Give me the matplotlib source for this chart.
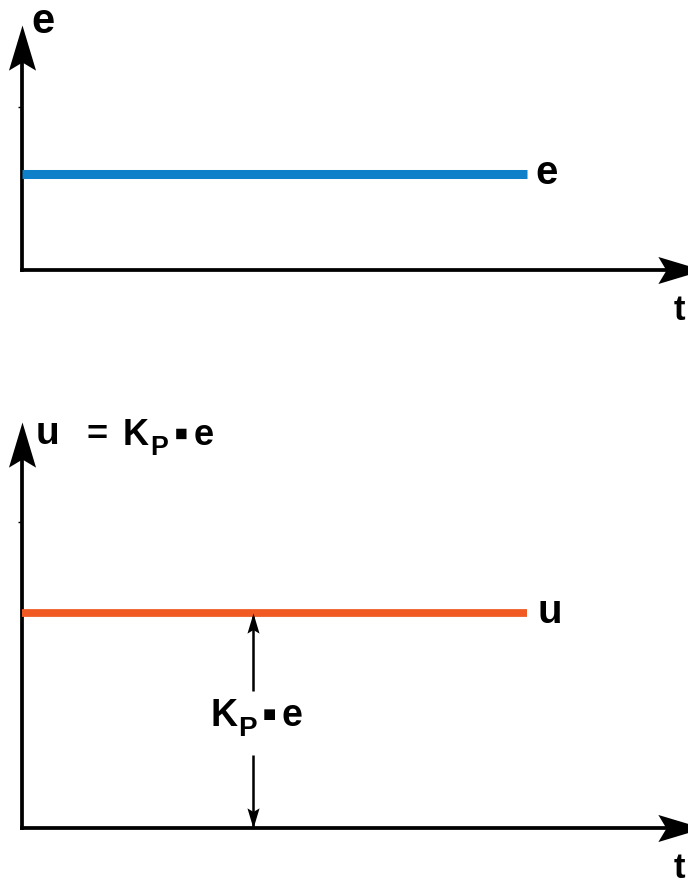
import numpy as np
import matplotlib
matplotlib.use("Agg")
import matplotlib.pyplot as plt
from matplotlib.path import Path

plt.rcParams['font.family'] = ['Liberation Sans', 'DejaVu Sans']
plt.rcParams['font.weight'] = 'bold'

# signals: constant error e and proportional output u = Kp * e
t = [0.0, 8.0]
e = [1.0, 1.0]
Kp = 2.0
u = [Kp * v for v in e]
t_mark = 3.66            # where the Kp*e span is marked

blue = '#0d80c9'
orange = '#f15a22'


def head(angle, hw=0.3, notch=0.18):
    # concave arrow head, tip at the origin, pointing up before rotation
    v = np.array([(0, 0), (hw, -1), (0, -1 + notch), (-hw, -1), (0, 0)], float)
    a = np.deg2rad(angle)
    r = np.array([[np.cos(a), -np.sin(a)], [np.sin(a), np.cos(a)]])
    v = v @ r.T
    return Path(v, [Path.MOVETO, Path.LINETO, Path.LINETO, Path.LINETO, Path.CLOSEPOLY])


UP, RIGHT, DOWN = head(0), head(-90), head(180)


def setup(ax, ytop):
    ax.set_xlim(0, 10.79)
    ax.set_ylim(0, ytop)
    for s in ('top', 'right'):
        ax.spines[s].set_visible(False)
    for s in ('left', 'bottom'):
        ax.spines[s].set_linewidth(2.7)
    ax.spines['left'].set_bounds(0, ytop * 0.95)
    ax.spines['bottom'].set_bounds(0, 10.79 * 0.95)
    ax.set_xticks([])
    ax.tick_params(axis='y', length=3, width=1, labelleft=False)
    ax.plot([0], [1], marker=UP, ms=65, color='k', mew=0,
            transform=ax.transAxes, clip_on=False, zorder=5)
    ax.plot([1], [0], marker=RIGHT, ms=65, color='k', mew=0,
            transform=ax.transAxes, clip_on=False, zorder=5)
    ax.annotate('t', xy=(1, 0), xycoords='axes fraction', xytext=(-29, -50),
                textcoords='offset pixels', fontsize=25, ha='left', va='baseline')
    ax.patch.set_visible(False)


def kp_e(ax, xy, xycoords, dx, dy, size=26):
    kw = dict(xy=xy, xycoords=xycoords, textcoords='offset pixels', annotation_clip=False)
    ax.annotate('K', xytext=(dx, dy), fontsize=size, ha='left', va='baseline', **kw)
    ax.annotate('P', xytext=(dx + 27, dy - 10), fontsize=size * 0.74,
                ha='left', va='baseline', **kw)
    ax.annotate('\u25aa', xytext=(dx + 58, dy + 9), fontsize=size * 1.15,
                ha='center', va='center', **kw)
    ax.annotate('e', xytext=(dx + 71, dy), fontsize=size, ha='left', va='baseline', **kw)


fig = plt.figure(figsize=(6.88, 8.86), dpi=100)
ax1 = fig.add_axes([22 / 688, 616 / 886, 681 / 688, 245 / 886])
ax2 = fig.add_axes([22 / 688, 58 / 886, 681 / 688, 406 / 886])

# top: error signal
setup(ax1, 2.565)
ax1.set_yticks([1.71])
ax1.plot(t, e, color=blue, lw=6.5, solid_capstyle='butt', zorder=3)
ax1.annotate('e', xy=(t[-1], e[-1]), xytext=(8, -10), textcoords='offset pixels',
             fontsize=29, ha='left', va='baseline')
ax1.annotate('e', xy=(0, 1), xycoords='axes fraction', xytext=(9, -8),
             textcoords='offset pixels', fontsize=30, ha='left', va='baseline')

# bottom: controller output
setup(ax2, 3.777)
ax2.set_yticks([2.85])
ax2.plot(t, u, color=orange, lw=5.6, solid_capstyle='butt', zorder=3)
ax2.annotate('u', xy=(t[-1], u[-1]), xytext=(11, -10), textcoords='offset pixels',
             fontsize=29, ha='left', va='baseline')
ax2.annotate('u', xy=(0, 1), xycoords='axes fraction', xytext=(14, -22),
             textcoords='offset pixels', fontsize=28, ha='left', va='baseline')
ax2.annotate('=', xy=(0, 1), xycoords='axes fraction', xytext=(64, -23),
             textcoords='offset pixels', fontsize=26, ha='left', va='baseline')
kp_e(ax2, (0, 1), 'axes fraction', 101, -23)

# span arrow from the t axis up to u, labelled Kp*e
u0 = u[0]
ax2.vlines(t_mark, u0 / 2 + 0.27, u0, color='k', lw=1.8)
ax2.vlines(t_mark, 0, u0 / 2 - 0.32, color='k', lw=1.8)
ax2.plot([t_mark], [u0], marker=UP, ms=29, color='k', mew=0, zorder=4, clip_on=False)
ax2.plot([t_mark], [0], marker=DOWN, ms=29, color='k', mew=0, zorder=4, clip_on=False)
kp_e(ax2, (t_mark, u0 / 2), 'data', -42, -5, size=27)

fig.savefig('out.png', dpi=100)
